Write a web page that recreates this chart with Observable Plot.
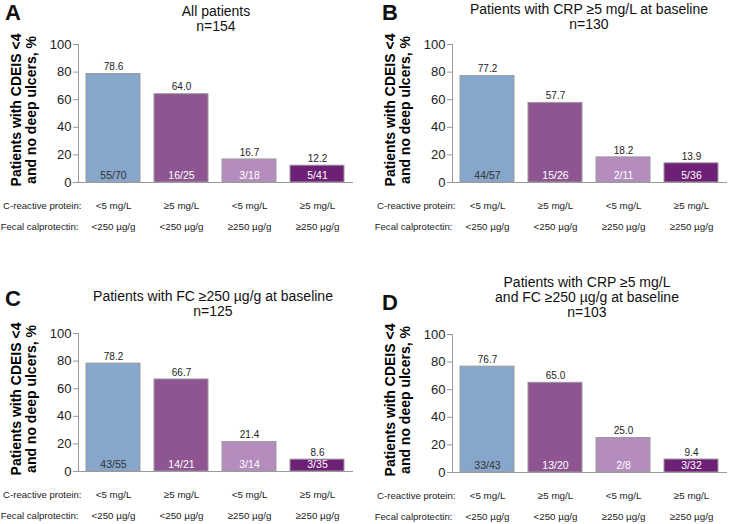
<!DOCTYPE html>
<html>
<head>
<meta charset="utf-8">
<script src="https://cdn.jsdelivr.net/npm/d3@7"></script>
<script src="https://cdn.jsdelivr.net/npm/@observablehq/plot@0.6"></script>
<style>
  body { margin: 0; background: #fff; }
  #root { position: relative; width: 729px; height: 524px; background: #fff; overflow: hidden;
          font-family: "Liberation Sans", Arial, Helvetica, sans-serif; color: #111; }
  .letter { position: absolute; font-size: 22px; font-weight: bold; line-height: normal; }
  .title { position: absolute; width: 320px; text-align: center; font-size: 14px; line-height: 15px; color: #111; }
  .panel { position: absolute; }
</style>
</head>
<body>
<div id="root"></div>
<script>
// ---- data ----
const categories = ["CRP<5/FC<250", "CRP≥5/FC<250", "CRP<5/FC≥250", "CRP≥5/FC≥250"];
const crpLabels = ["<5 mg/L", "≥5 mg/L", "<5 mg/L", "≥5 mg/L"];
const fcLabels = ["<250 µg/g", "<250 µg/g", "≥250 µg/g", "≥250 µg/g"];
const rowLabels = ["C-reactive protein:", "Fecal calprotectin:"];
const yTitle = "Patients with CDEIS <4\nand no deep ulcers, %";
const yTicks = [0, 20, 40, 60, 80, 100];
const colors = ["#86a6cb", "#8e5592", "#b48dbe", "#6e2077"];

const panelLetters = ["A", "B", "C", "D"];
const titlesA = ["All patients", "n=154"];
const titlesB = ["Patients with CRP ≥5 mg/L at baseline", "n=130"];
const titlesC = ["Patients with FC ≥250 µg/g at baseline", "n=125"];
const titlesD = ["Patients with CRP ≥5 mg/L", "and FC ≥250 µg/g at baseline", "n=103"];

const valuesA = [78.6, 64.0, 16.7, 12.2];
const fractionsA = ["55/70", "16/25", "3/18", "5/41"];
const valuesB = [77.2, 57.7, 18.2, 13.9];
const fractionsB = ["44/57", "15/26", "2/11", "5/36"];
const valuesC = [78.2, 66.7, 21.4, 8.6];
const fractionsC = ["43/55", "14/21", "3/14", "3/35"];
const valuesD = [76.7, 65.0, 25.0, 9.4];
const fractionsD = ["33/43", "13/20", "2/8", "3/32"];

const FONT = '"Liberation Sans", Arial, Helvetica, sans-serif';

function makePanel(values, fractions) {
  const rows = categories.map((c, i) => ({
    cat: c, value: values[i], frac: fractions[i], crp: crpLabels[i], fc: fcLabels[i]
  }));
  return Plot.plot({
    width: 355, height: 210,
    marginLeft: 78, marginRight: 2, marginTop: 10, marginBottom: 62,
    x: {domain: categories, paddingInner: 0.2, paddingOuter: 0.1, axis: null},
    y: {domain: [0, 100], axis: null},
    color: {domain: categories, range: colors},
    style: {fontFamily: FONT, background: "transparent", overflow: "visible", color: "#111"},
    marks: [
      Plot.barY(rows, {x: "cat", y: "value", fill: "cat", stroke: "#9c9c9c", strokeWidth: 1}),
      Plot.ruleY([0], {stroke: "#9a9a9a", strokeWidth: 1}),
      Plot.frame({anchor: "left", stroke: "#9a9a9a"}),
      Plot.axisY({ticks: yTicks, tickSize: 5, tickPadding: 2, fontSize: 13, stroke: "#9a9a9a", fill: "#222", label: null}),
      Plot.text(rows, {x: "cat", y: "value", text: d => d.value.toFixed(1), dy: -7, fontSize: 10, fill: "#222"}),
      Plot.text(rows.slice(0, 1), {x: "cat", y: () => 0, text: "frac", dy: -7, fontSize: 10.5, fill: "#333"}),
      Plot.text(rows.slice(1), {x: "cat", y: () => 0, text: "frac", dy: -7, fontSize: 10.5, fill: "#fff"}),
      Plot.text(rows, {x: "cat", text: "crp", frameAnchor: "bottom", dy: 26, fontSize: 9.8, fill: "#222"}),
      Plot.text(rows, {x: "cat", text: "fc", frameAnchor: "bottom", dy: 47, fontSize: 9.8, fill: "#222"}),
      Plot.text([rowLabels[0]], {text: d => d, frameAnchor: "bottom-left", textAnchor: "end", dx: 3, dy: 26, fontSize: 9.6, fill: "#222"}),
      Plot.text([rowLabels[1]], {text: d => d, frameAnchor: "bottom-left", textAnchor: "end", dx: 0, dy: 47, fontSize: 9.6, fill: "#222"}),
      Plot.text([yTitle], {text: d => d, frameAnchor: "left", textAnchor: "middle", lineAnchor: "middle", rotate: -90, dx: -54.5, dy: -3.5, fontSize: 14, fontWeight: "bold", lineHeight: 1.07, fill: "#000"})
    ]
  });
}

const root = document.getElementById("root");

function addPanel(values, fractions, left, top) {
  const div = document.createElement("div");
  div.className = "panel";
  div.style.left = left + "px";
  div.style.top = top + "px";
  div.appendChild(makePanel(values, fractions));
  root.appendChild(div);
}
function addTitle(lines, centerX, top) {
  const div = document.createElement("div");
  div.className = "title";
  div.style.left = (centerX - 160) + "px";
  div.style.top = top + "px";
  div.innerHTML = lines.map(l => l.replace(/&/g, "&amp;").replace(/</g, "&lt;")).join("<br>");
  root.appendChild(div);
}
function addLetter(letter, left, top) {
  const div = document.createElement("div");
  div.className = "letter";
  div.style.left = left + "px";
  div.style.top = top + "px";
  div.textContent = letter;
  root.appendChild(div);
}

addPanel(valuesA, fractionsA, 0, 34);
addPanel(valuesB, fractionsB, 374, 34);
addPanel(valuesC, fractionsC, 0, 323);
addPanel(valuesD, fractionsD, 374, 324);

addTitle(titlesA, 216, 4);
addTitle(titlesB, 589, 2);
addTitle(titlesC, 213, 289);
addTitle(titlesD, 587, 275);

addLetter(panelLetters[0], 5, 0);
addLetter(panelLetters[1], 382, 0);
addLetter(panelLetters[2], 5, 286);
addLetter(panelLetters[3], 382, 290);
</script>
</body>
</html>
